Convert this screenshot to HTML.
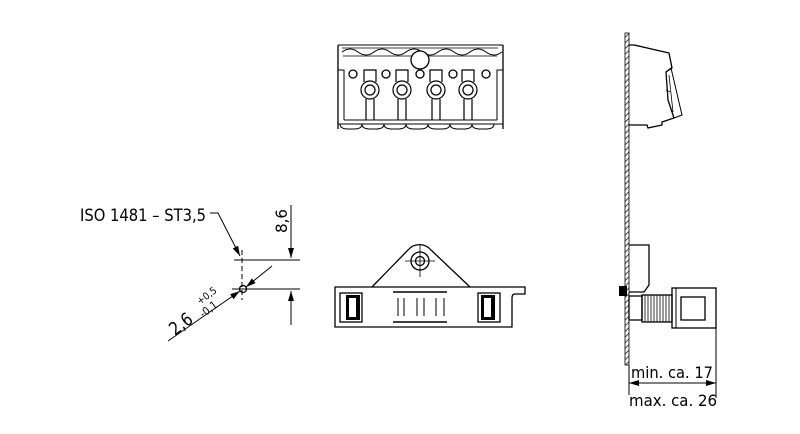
<!DOCTYPE html>
<html><head><meta charset="utf-8"><style>
html,body{margin:0;padding:0;background:#fff;width:800px;height:434px;overflow:hidden}
svg{display:block}
text{font-family:"Liberation Sans Narrow","DejaVu Sans Condensed","Liberation Sans",sans-serif;fill:#000}
</style></head><body>
<svg width="800" height="434" viewBox="0 0 800 434" xmlns="http://www.w3.org/2000/svg">
<defs>
<pattern id="hatch" width="4" height="4" patternUnits="userSpaceOnUse" patternTransform="rotate(45)">
<line x1="0" y1="0" x2="0" y2="4" stroke="#000" stroke-width="1.4"/>
</pattern>
<marker id="ar" markerWidth="10" markerHeight="6" refX="10" refY="3" orient="auto" markerUnits="userSpaceOnUse">
<path d="M0,0 L10,3 L0,6 Z" fill="#000"/>
</marker>
</defs>
<g fill="none" stroke="#000" stroke-width="1.3">
<!-- TOP VIEW -->
<path d="M338,129 V45 M503,45 V129"/>
<path d="M338,45 H503" stroke-width="1"/>
<path d="M342,52 q8,-6 16,0 q8,6 16,0 q8,-6 16,0 q8,6 16,0 q8,-6 16,0 q8,6 16,0 q8,-6 16,0 q8,6 16,0 q8,-6 16,0 q8,6 16,0" stroke-width="1"/>
<path d="M342,48 h156 M343,56 h154" stroke-width="0.8"/>
<circle cx="420" cy="60" r="9" fill="#fff"/>
<circle cx="353" cy="74" r="4"/><circle cx="386" cy="74" r="4"/><circle cx="420" cy="74" r="4"/><circle cx="453" cy="74" r="4"/><circle cx="486" cy="74" r="4"/>
<path d="M338,70 h6 v50 M503,70 h-6 v50" stroke-width="1"/>
<g stroke-width="1.2">
<circle cx="370" cy="90" r="9"/><circle cx="370" cy="90" r="5"/><path d="M364,82 V70 h12 V82 M366,99 V120 M374,99 V120"/>
<circle cx="402" cy="90" r="9"/><circle cx="402" cy="90" r="5"/><path d="M396,82 V70 h12 V82 M398,99 V120 M406,99 V120"/>
<circle cx="436" cy="90" r="9"/><circle cx="436" cy="90" r="5"/><path d="M430,82 V70 h12 V82 M432,99 V120 M440,99 V120"/>
<circle cx="468" cy="90" r="9"/><circle cx="468" cy="90" r="5"/><path d="M462,82 V70 h12 V82 M464,99 V120 M472,99 V120"/>
</g>
<path d="M344,120 H497 M338,124 H503" stroke-width="1"/>
<path d="M340,124 q0,5 8,5 h6 q8,0 8,-5 q0,5 8,5 h6 q8,0 8,-5 q0,5 8,5 h6 q8,0 8,-5 q0,5 8,5 h6 q8,0 8,-5 q0,5 8,5 h6 q8,0 8,-5 q0,5 8,5 h6 q8,0 8,-5 q0,5 8,5 h6 q8,0 8,-5" stroke-width="1"/>

<!-- FRONT VIEW -->
<path d="M335,287 H525 V294 H515 q-3,0 -3,4 V327 H335 Z"/>
<path d="M372,287 L408,250 A15,15 0 0 1 431,250 L470,287"/>
<circle cx="420" cy="261" r="9"/><circle cx="420" cy="261" r="4.5"/>
<path d="M405,261 H435 M420,245 V277" stroke-width="0.8"/>
<rect x="340" y="293" width="22" height="29"/><rect x="346" y="295" width="14" height="25" fill="#000" stroke="none"/><rect x="349" y="298" width="7" height="19" fill="#fff" stroke="none"/>
<rect x="478" y="293" width="22" height="29"/><rect x="481" y="295" width="14" height="25" fill="#000" stroke="none"/><rect x="484" y="298" width="7" height="19" fill="#fff" stroke="none"/>
<path d="M393,292 H447 M393,322 H447" stroke-width="1.6"/>
<path d="M398,298 V316 M404,298 V316 M417,298 V316 M424,298 V316 M436,298 V316 M444,298 V316" stroke-width="1"/>

<!-- SIDE VIEW -->
<rect x="625" y="33" width="4" height="332" fill="url(#hatch)" stroke-width="0.8"/>
<path d="M629,45 H634 L669,53 L672,68 L666,72 L668,100 L674,118 L662,122 L662,125 L648,128 L647,125 H629"/>
<path d="M666,72 L671,68 L682,115 L674,118" stroke-width="1"/>
<path d="M669,75 L673,112 M666,90 L670,92" stroke-width="0.8"/>
<path d="M629,245 H649 V285 L644,292 H629"/>
<rect x="619" y="286" width="8" height="10" fill="#000" stroke="none"/>
<rect x="629" y="296" width="13" height="24"/>
<rect x="642" y="295" width="30" height="27"/>
<path d="M645,295v27M648,295v27M651,295v27M654,295v27M657,295v27M660,295v27M663,295v27M666,295v27M669,295v27" stroke-width="0.8"/>
<rect x="672" y="288" width="44" height="40"/>
<path d="M676,288 V328" stroke-width="1"/>
<rect x="681" y="297" width="24" height="23"/>
<path d="M629,365 V395 M716,328 V398" stroke-width="1"/>
<path d="M660,383 L716,383" stroke-width="1" marker-end="url(#ar)"/>
<path d="M660,383 L629,383" stroke-width="1" marker-end="url(#ar)"/>

<!-- DETAIL -->
<path d="M210,213 H218 L240,256" stroke-width="1" marker-end="url(#ar)"/>
<path d="M234,260 H300 M232,289 H300" stroke-width="1"/>
<path d="M242,250 V300" stroke-width="1" stroke-dasharray="5,3"/>
<circle cx="243" cy="289" r="3.5"/>
<path d="M291,205 V258" stroke-width="1" marker-end="url(#ar)"/>
<path d="M291,325 V291" stroke-width="1" marker-end="url(#ar)"/>
<path d="M168,341 L240,291" stroke-width="1" marker-end="url(#ar)"/>
<path d="M272,266 L246,287" stroke-width="1" marker-end="url(#ar)"/>
</g>
<text x="80" y="221" font-size="17" textLength="126" lengthAdjust="spacingAndGlyphs">ISO 1481 – ST3,5</text>
<text transform="translate(287,233) rotate(-90)" font-size="16" textLength="24" lengthAdjust="spacingAndGlyphs">8,6</text>
<text transform="translate(175,336) rotate(-37)" font-size="18" textLength="24" lengthAdjust="spacingAndGlyphs">2,6</text>
<text transform="translate(200,305) rotate(-37)" font-size="10">+0,5</text>
<text transform="translate(203,318) rotate(-37)" font-size="11">-0,1</text>
<text x="631" y="378" font-size="16" textLength="82" lengthAdjust="spacingAndGlyphs">min. ca. 17</text>
<text x="629" y="406" font-size="16" textLength="88" lengthAdjust="spacingAndGlyphs">max. ca. 26</text>
</svg>
</body></html>
